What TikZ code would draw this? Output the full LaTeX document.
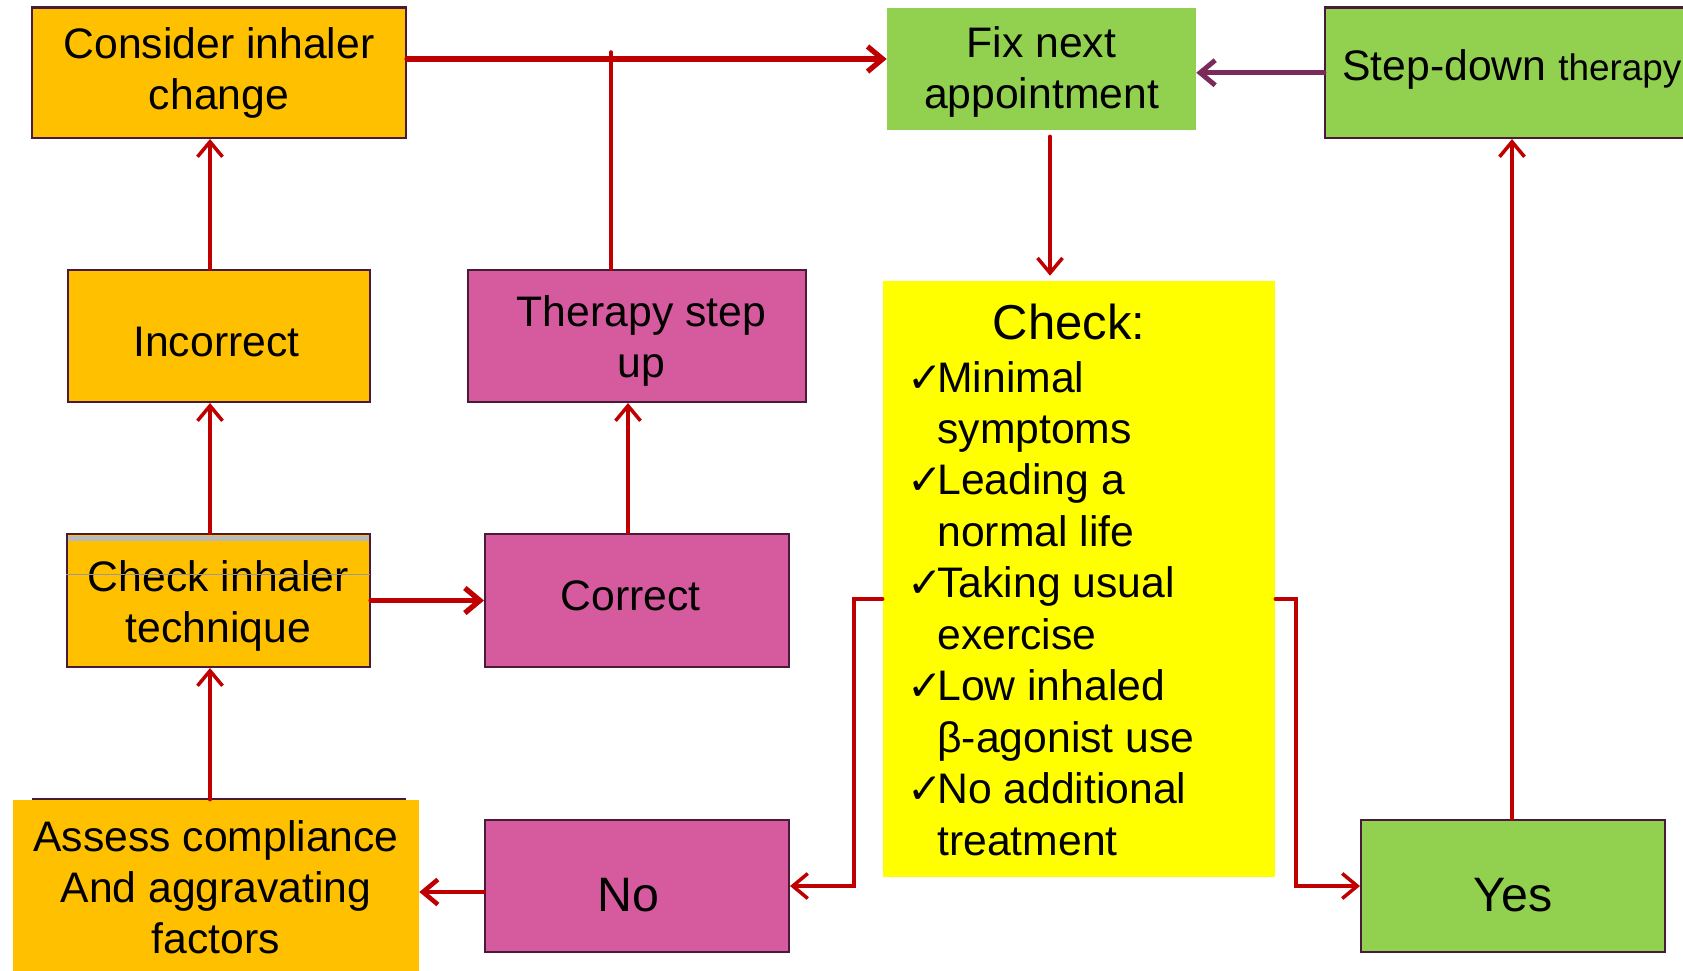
\documentclass[tikz,border=0pt]{standalone}
\usepackage{fontspec}
\setmainfont{Liberation Sans}
\newfontfamily\symfont{DejaVu Sans}
\usetikzlibrary{arrows.meta}

\definecolor{boxorange}{HTML}{FFC000}
\definecolor{boxpink}{HTML}{D55A9E}
\definecolor{boxgreen}{HTML}{92D050}
\definecolor{boxyellow}{HTML}{FFFF00}
\definecolor{edge}{HTML}{4A1A3A}
\definecolor{flow}{HTML}{C00000}
\definecolor{backflow}{HTML}{7B2A5C}

\newcommand\bxfont{\fontsize{24.3}{28.9}\selectfont}
\newcommand\bigbxfont{\fontsize{27.5}{32}\selectfont}
\newcommand\ck{\makebox[0.6cm][l]{\symfont\bfseries\fontsize{24}{24}\selectfont ✓}}
% invisible struts that nudge a label down (taller top) or up (deeper bottom)
\newcommand\topgap[1]{\rule{0pt}{#1}}
\newcommand\botgap[1]{\rule[-#1]{0pt}{#1}}

\tikzset{
  box/.style={draw=edge, line width=1.2pt, align=center, inner sep=0pt, font=\bxfont},
  plainbox/.style={align=center, inner sep=0pt, font=\bxfont},
  flowline/.style={draw=flow, line width=2pt, line cap=round, line join=miter},
  arrowed/.style={-{Straight Barb[length=0.3cm,width=0.5cm]}},
}

\begin{document}
\begin{tikzpicture}[x=0.02cm, y=-0.02cm]
\useasboundingbox (0,0) rectangle (1683,970);
\fill[white] (0,0) rectangle (1683,970);
\clip (0,0) rectangle (1683,970);

% guide coordinates for the connector lanes
\coordinate (toprow) at (0,59);
\coordinate (tsu) at (611,52);
\coordinate (lcol) at (210,0);
\coordinate (pcol) at (628,0);
\coordinate (mcol) at (1050,0);
\coordinate (rcol) at (1512,0);
\coordinate (lbend) at (854,599);
\coordinate (rbend) at (1296,599);

% left column
\node[box, fill=boxorange, minimum width=7.48cm, minimum height=2.61cm] (consider) at (219,72.75) {Consider inhaler\\change};
\node[box, fill=boxorange, minimum width=6.04cm, minimum height=2.64cm] (incorrect) at (219,336) {\topgap{23.5pt}Incorrect\hspace*{3pt}};
\node[box, fill=boxorange, minimum width=6.06cm, minimum height=2.66cm] (checkinh) at (218.5,600.5) {\topgap{23.5pt}Check inhaler\\technique};
\fill[gray!55] (68,536) rectangle (369,541);
\draw[gray!80, line width=0.5pt] (66,574) -- (370,574);
\node[plainbox, fill=boxorange, minimum width=8.12cm, minimum height=3.5cm] (assess) at (216,887.5) {Assess compliance\\And aggravating\\factors};
\draw[edge, line width=1.2pt] (32,799) -- (406,799);

% middle column
\node[box, fill=boxpink, minimum width=6.76cm, minimum height=2.64cm] (therapy) at (637,336) {\topgap{23pt}\hspace*{5pt}Therapy step\\\hspace*{5pt}up};
\node[box, fill=boxpink, minimum width=6.08cm, minimum height=2.66cm] (correct) at (637,600.5) {Correct\botgap{6pt}\hspace*{7.4pt}};
\node[box, fill=boxpink, minimum width=6.08cm, minimum height=2.64cm, font=\bigbxfont] (no) at (637,886) {\topgap{29.5pt}No\hspace*{9.8pt}};

% right part
\node[plainbox, fill=boxgreen, minimum width=6.18cm, minimum height=2.45cm] (fixnext) at (1041.5,68.75) {\topgap{21.5pt}Fix next\\appointment};
\node[box, fill=boxgreen, minimum width=7.5cm, minimum height=2.61cm] (stepdown) at (1512.5,72.75) {};
\node[anchor=base west, inner sep=0pt, font=\bxfont] (sdtext) at (1342,80) {Step-down {\fontsize{21}{25}\selectfont therapy}};
\node[fill=boxyellow, inner sep=0pt, minimum width=7.84cm, minimum height=11.92cm] (check) at (1079,579) {};
\node[anchor=base, inner sep=0pt, font=\fontsize{27.9}{32}\selectfont] (checktitle) at (1069,339) {Check:};
\node[anchor=base west, inner sep=0pt] (checklist) at (907,392) {\fontsize{24.3}{29.3}\selectfont
\begin{tabular}[t]{@{}l@{}l@{}}
\ck & Minimal\\
    & symptoms\\
\ck & Leading a\\
    & normal life\\
\ck & Taking usual\\
    & exercise\\
\ck & Low inhaled\\
    & β-agonist use\\
\ck & No additional\\
    & treatment
\end{tabular}};
\node[box, fill=boxgreen, minimum width=6.08cm, minimum height=2.64cm, font=\bigbxfont] (yes) at (1513,886) {\topgap{29.5pt}Yes};

% connectors
\draw[flowline, line width=3pt, arrowed] (consider.east |- toprow) -- (fixnext.west |- toprow);
\draw[flowline] (therapy.north -| tsu) -- (tsu);
\draw[flowline, arrowed] (incorrect.north -| lcol) -- (consider.south -| lcol);
\draw[flowline, arrowed] (checkinh.north -| lcol) -- (incorrect.south -| lcol);
\draw[flowline, arrowed] (assess.north -| lcol) -- (checkinh.south -| lcol);
\draw[flowline, line width=3pt, arrowed] (checkinh.east) -- (correct.west);
\draw[flowline, arrowed] (correct.north -| pcol) -- (therapy.south -| pcol);
\draw[flowline, line width=2.6pt, arrowed] ([yshift=-0.12cm]no.west) -- ([yshift=-0.12cm]assess.east |- no.west);
\draw[flowline, arrowed] (check.west |- lbend) -- (lbend) -- (lbend |- no.east) -- (no.east);
\draw[flowline, arrowed] (check.east |- rbend) -- (rbend) -- (rbend |- yes.west) -- (yes.west);
\draw[flowline, arrowed] (yes.north -| rcol) -- (stepdown.south -| rcol);
\draw[draw=backflow, line width=2.8pt, line cap=round, arrowed] (stepdown.west) -- (fixnext.east |- stepdown.west);
\draw[flowline, arrowed, shorten <=0.12cm, shorten >=0.1cm] (fixnext.south -| mcol) -- (check.north -| mcol);
\end{tikzpicture}
\end{document}
